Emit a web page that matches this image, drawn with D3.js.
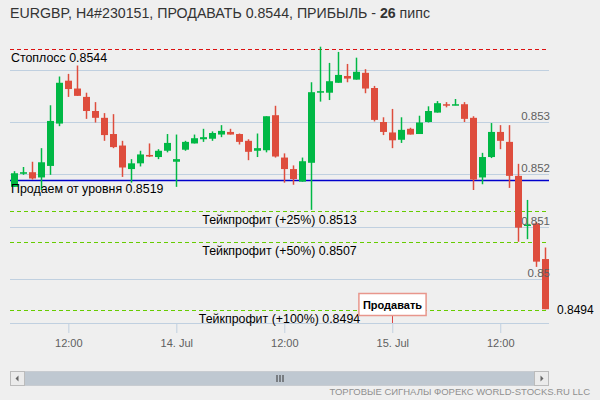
<!DOCTYPE html>
<html lang="ru">
<head>
<meta charset="UTF-8">
<title>EURGBP</title>
<script src="https://d3js.org/d3.v7.min.js"></script>
<style>
  body { margin: 0; background: #efefef; }
  svg { display: block; font-family: "Liberation Sans", Arial, sans-serif; }
</style>
</head>
<body>
<svg id="chart" width="600" height="400"></svg>
<script>
// title pieces
const titleText = "EURGBP, H4#230151, ПРОДАВАТЬ 0.8544, ПРИБЫЛЬ - ";
const profitPips = "26";
const profitUnit = " пипс";
const footerText = "ТОРГОВЫЕ СИГНАЛЫ ФОРЕКС WORLD-STOCKS.RU LLC";

// hourly candles starting 13 Jul 06:00
const startTime = new Date(2015, 6, 13, 6);
const opens = [0.85176,0.85201,0.85204,0.85194,0.85216,0.85297,0.85379,0.85364,0.85348,0.85321,
  0.85308,0.85277,0.85255,0.85210,0.85221,0.85237,0.85233,0.85245,0.85224,0.85247,
  0.85259,0.85267,0.85268,0.85276,0.85281,0.85277,0.85264,0.85245,0.85246,0.85313,
  0.85232,0.85210,0.85186,0.85222,0.85356,0.85356,0.85375,0.85388,0.85381,0.85394,
  0.85365,0.85300,0.85280,0.85266,0.85287,0.85277,0.85300,0.85318,0.85334,0.85332,
  0.85334,0.85308,0.85194,0.85233,0.85281,0.85262,0.85197,0.85102,0.85106,0.85038];
const highs = [0.85206,0.85214,0.85224,0.85250,0.85332,0.85387,0.85392,0.85408,0.85356,0.85338,
  0.85317,0.85315,0.85264,0.85229,0.85245,0.85259,0.85248,0.85277,0.85276,0.85264,
  0.85276,0.85287,0.85282,0.85294,0.85287,0.85278,0.85267,0.85278,0.85311,0.85331,
  0.85240,0.85217,0.85232,0.85376,0.85444,0.85413,0.85434,0.85411,0.85423,0.85401,
  0.85369,0.85309,0.85325,0.85309,0.85289,0.85312,0.85330,0.85340,0.85338,0.85344,
  0.85338,0.85311,0.85241,0.85298,0.85294,0.85294,0.85220,0.85151,0.85109,0.85060];
const lows = [0.85176,0.85199,0.85190,0.85170,0.85199,0.85292,0.85348,0.85350,0.85306,0.85299,
  0.85264,0.85250,0.85195,0.85184,0.85215,0.85233,0.85229,0.85242,0.85176,0.85245,
  0.85259,0.85262,0.85264,0.85271,0.85276,0.85257,0.85227,0.85233,0.85242,0.85232,
  0.85184,0.85180,0.85186,0.85132,0.85339,0.85342,0.85375,0.85376,0.85381,0.85355,
  0.85301,0.85275,0.85250,0.85260,0.85276,0.85277,0.85299,0.85318,0.85328,0.85332,
  0.85300,0.85170,0.85181,0.85231,0.85248,0.85174,0.85071,0.85076,0.85023,0.84942];
const closes = [0.85202,0.85204,0.85192,0.85223,0.85302,0.85375,0.85363,0.85350,0.85321,0.85308,
  0.85275,0.85252,0.85213,0.85221,0.85238,0.85234,0.85245,0.85260,0.85229,0.85262,
  0.85269,0.85271,0.85279,0.85283,0.85276,0.85262,0.85243,0.85250,0.85311,0.85234,
  0.85210,0.85191,0.85225,0.85357,0.85359,0.85378,0.85390,0.85383,0.85396,0.85364,
  0.85304,0.85281,0.85265,0.85285,0.85276,0.85299,0.85321,0.85336,0.85332,0.85334,
  0.85306,0.85190,0.85233,0.85281,0.85264,0.85197,0.85098,0.85104,0.85033,0.84942];

// signal levels
const levelNames = ["Стоплосс", "Продаем от уровня", "Тейкпрофит (+25%)", "Тейкпрофит (+50%)", "Тейкпрофит (+100%)"];
const levelValues = [0.8544, 0.8519, 0.8513, 0.8507, 0.8494];
const lastPrice = 0.8494;

// flag
const flagTime = new Date(2015, 6, 15, 0);
const flagText = "Продавать";

// axis ticks
const yGridValues = [0.850, 0.851, 0.852, 0.853, 0.854];
const yLabelValues = [0.850, 0.851, 0.852, 0.853];
const xTickValues = [new Date(2015, 6, 13, 12), new Date(2015, 6, 14, 0), new Date(2015, 6, 14, 12),
  new Date(2015, 6, 15, 0), new Date(2015, 6, 15, 12)];

const left = 10, right = 549, axisY = 323;
const svg = d3.select("#chart");
const times = opens.map((d, i) => d3.timeHour.offset(startTime, i));

const x = d3.scaleTime()
  .domain([d3.timeMinute.offset(startTime, -29), d3.timeMinute.offset(startTime, 59 * 60 + 25)])
  .range([left, right]);
const y = d3.scaleLinear().domain([0.850, 0.854]).range([278.9, 69.7]);

svg.append("rect").attr("width", 600).attr("height", 400).attr("fill", "#efefef");

// title
const title = svg.append("text").attr("x", 10).attr("y", 18)
  .attr("font-size", 14.2).attr("fill", "#333");
title.append("tspan").text(titleText);
title.append("tspan").attr("font-weight", "bold").text(profitPips);
title.append("tspan").text(profitUnit);

// grid
svg.append("g").selectAll("line").data(yGridValues).join("line")
  .attr("x1", left).attr("x2", right)
  .attr("y1", d => Math.round(y(d)) + 0.5).attr("y2", d => Math.round(y(d)) + 0.5)
  .attr("stroke", "#c0d0e0");

// x axis
const xAxis = svg.append("g").attr("transform", `translate(0,${axisY})`)
  .call(d3.axisBottom(x).tickValues(xTickValues).tickSize(10).tickPadding(6)
    .tickFormat(d => d.getHours() === 0 ? d3.timeFormat("%-d. %b")(d) : d3.timeFormat("%H:%M")(d)));
xAxis.select(".domain").attr("stroke", "#c0d0e0").attr("d", `M${left},0.5H${right}`);
xAxis.selectAll(".tick line").attr("stroke", "#c0d0e0");
xAxis.selectAll(".tick text").attr("fill", "#606060").attr("font-size", 11)
  .attr("font-family", "Liberation Sans, Arial, sans-serif");

// level lines
const levelColor = ["#dd1111", "#0000cc", "#66cc00", "#66cc00", "#66cc00"];
levelValues.forEach((v, i) => {
  const ly = Math.round(y(v)) + 0.5;
  const line = svg.append("line").attr("x1", left).attr("x2", right)
    .attr("y1", ly).attr("y2", ly).attr("stroke", levelColor[i]);
  if (i === 1) line.attr("stroke-width", 1.5);
  else line.attr("stroke-dasharray", "4,3");
});

// candles
const up = "#00b845", down = "#de4d3d";
const cg = svg.append("g");
cg.selectAll("line").data(times).join("line")
  .attr("x1", d => Math.round(x(d)) + 0.5).attr("x2", d => Math.round(x(d)) + 0.5)
  .attr("y1", (d, i) => y(highs[i])).attr("y2", (d, i) => y(lows[i]))
  .attr("stroke", (d, i) => closes[i] >= opens[i] ? up : down).attr("stroke-width", 1.5);
cg.selectAll("rect").data(times).join("rect")
  .attr("x", d => Math.round(x(d)) - 3)
  .attr("width", 7)
  .attr("y", (d, i) => y(Math.max(opens[i], closes[i])))
  .attr("height", (d, i) => Math.max(1.5, Math.abs(y(opens[i]) - y(closes[i]))))
  .attr("fill", (d, i) => closes[i] >= opens[i] ? up : down);

// level labels
levelValues.forEach((v, i) => {
  const t = svg.append("text").attr("y", y(v) + 13).attr("font-size", 12.4).attr("fill", "#000")
    .text(levelNames[i] + " " + v.toFixed(4));
  if (i < 2) t.attr("x", 11);
  else t.attr("x", (left + right) / 2).attr("text-anchor", "middle");
});

// y labels
svg.append("g").selectAll("text").data(yLabelValues).join("text")
  .attr("x", 550).attr("y", d => y(d) - 2)
  .attr("text-anchor", "end").attr("font-size", 11.5).attr("fill", "#606060")
  .text(d => String(+d.toFixed(3)));

svg.append("text").attr("x", 557).attr("y", y(lastPrice) + 4)
  .attr("font-size", 12).attr("fill", "#000").text(lastPrice.toFixed(4));

// flag
const fx = Math.round(x(flagTime)) + 0.5;
svg.append("line").attr("x1", fx).attr("x2", fx).attr("y1", 315).attr("y2", axisY)
  .attr("stroke", "#dd4444");
const flagBox = svg.append("rect").attr("y", 293.5).attr("height", 22)
  .attr("fill", "#fff").attr("stroke", "#e8968c").attr("stroke-width", 1.5);
const ft = svg.append("text").attr("y", 309).attr("font-size", 11).attr("font-weight", "bold")
  .attr("fill", "#000").attr("x", fx).attr("text-anchor", "middle").text(flagText);
const fw = ft.node().getComputedTextLength() + 8;
flagBox.attr("x", fx - fw / 2).attr("width", fw);

// scrollbar
const sb = svg.append("g").attr("transform", "translate(0,371)");
sb.append("rect").attr("x", left + 0.5).attr("y", 0.5).attr("width", right - left - 1).attr("height", 14)
  .attr("fill", "#eeeeee").attr("stroke", "#d0d0d0");
sb.append("rect").attr("x", left + 14).attr("y", 0.5).attr("width", right - left - 28).attr("height", 14)
  .attr("fill", "#bfc8d1");
[left + 0.5, right - 14.5].forEach((bx, i) => {
  sb.append("rect").attr("x", bx).attr("y", 0.5).attr("width", 14).attr("height", 14)
    .attr("fill", "#ebebeb").attr("stroke", "#bbbbbb");
  const cx = bx + 7;
  sb.append("path").attr("fill", "#666")
    .attr("d", i === 0 ? `M${cx + 1},${4.5}L${cx - 2},${7.5}L${cx + 1},${10.5}Z`
                       : `M${cx - 1},${4.5}L${cx + 2},${7.5}L${cx - 1},${10.5}Z`);
});
const gx = (left + right) / 2;
[-3, 0, 3].forEach(o => {
  sb.append("line").attr("x1", gx + o + 0.5).attr("x2", gx + o + 0.5).attr("y1", 4).attr("y2", 11)
    .attr("stroke", "#333");
});

// footer
svg.append("text").attr("x", 590).attr("y", 395).attr("text-anchor", "end")
  .attr("font-size", 9.5).attr("fill", "#909090").text(footerText);
</script>
</body>
</html>
